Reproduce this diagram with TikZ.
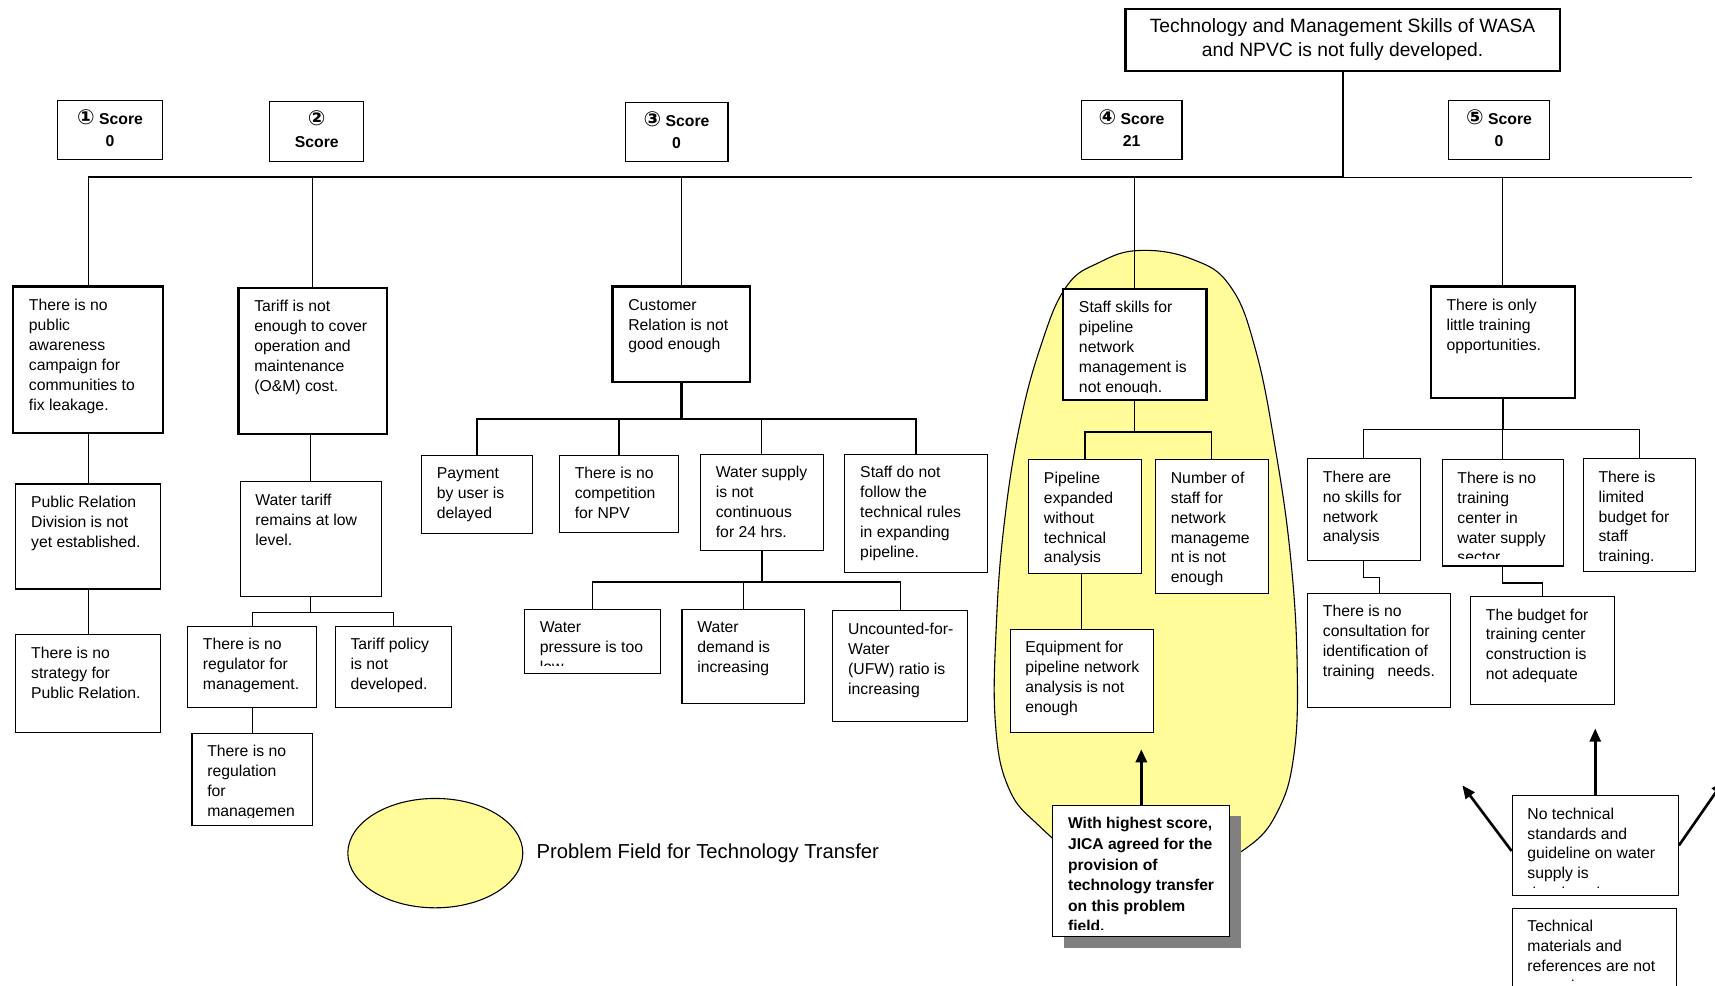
\documentclass[tikz,border=0pt]{standalone}
\usepackage{fontspec}
\setmainfont{Liberation Sans}
\newfontfamily\circfont{DejaVu Sans}
\usetikzlibrary{positioning,arrows.meta,shapes.geometric,shadows}

\definecolor{fieldyellow}{RGB}{255,252,153}
\definecolor{shadowgray}{RGB}{128,128,128}

\newcommand{\boxfont}{\fontsize{14.4}{18.2}\selectfont}
\newcommand{\jicafont}{\fontsize{14.3}{18.8}\selectfont\bfseries}
\newcommand{\titlefont}{\fontsize{17.6}{22}\selectfont}
\newcommand{\scorefont}{\fontsize{14.4}{20}\selectfont\bfseries}
\newcommand{\circnum}[1]{\smash{\circfont\bfseries\fontsize{19}{20}\selectfont #1}\vphantom{S}}

\begin{document}
\begin{tikzpicture}[x=1pt,y=-1pt,
    probtext/.style={draw=none,fill=none,rectangle,anchor=north west,inner sep=0pt,
      minimum width=0pt,minimum height=0pt,align=left},
    probat/.style n args={4}{draw,fill=white,line width=1pt,rectangle,anchor=north west,
      inner sep=0pt,minimum width=#1,minimum height=#2,
      path picture={\clip (path picture bounding box.north west) rectangle ([shift={(0,-7)}]path picture bounding box.south east);
        \node[probtext,font=#4] at ([shift={(13.5,10.5)}]path picture bounding box.north west) {#3};}},
    prob/.style n args={3}{probat={#1}{#2}{#3}{\boxfont}},
    keyprob/.style={line width=2pt},
    scorebox/.style={draw,fill=white,line width=1.2pt,anchor=north west,align=center,font=\scorefont},
    bigarrow/.style={-{Triangle[length=12pt,width=10pt]},line width=2.4pt}]

\useasboundingbox (0,0) rectangle (1568,901);

% problem field for technology transfer
\filldraw[fill=fieldyellow,line width=1pt] plot[smooth cycle,tension=0.7] coordinates {
  (1042,229) (1090,237) (1125,262) (1148,320) (1166,410) (1180,510) (1186,610) (1183,690)
  (1168,742) (1140,775) (1095,795) (1040,800) (990,785) (950,755) (922,720) (910,660)
  (911,570) (918,480) (932,390) (952,315) (975,262) (1005,240)};

% core problem and scores
\node[draw,fill=white,line width=2pt,anchor=north west,minimum width=397,minimum height=57,
  align=center,font=\titlefont] (title) at (1028,7)
  {Technology and Management Skills of WASA\\and NPVC is not fully developed.};
\node[scorebox,minimum width=96,minimum height=54] (s1) at (52,91) {\circnum{①} Score\\0};
\node[scorebox,minimum width=86,minimum height=55] (s2) at (246,92) {\circnum{②}\\Score};
\node[scorebox,minimum width=94,minimum height=54] (s3) at (571,93) {\circnum{③} Score\\0};
\node[scorebox,minimum width=92,minimum height=54] (s4) at (988,91) {\circnum{④} Score\\21};
\node[scorebox,minimum width=92,minimum height=54] (s5) at (1324,91) {\circnum{⑤} Score\\0};

% first level
\node[prob={137}{134}{There is no\\public\\awareness\\campaign for\\communities to\\fix leakage.},keyprob] (a1) at (11,261) {};
\node[prob={136}{134}{Tariff is not\\enough to cover\\operation and\\maintenance\\(O\&M) cost.},keyprob] (b1) at (217,262) {};
\node[prob={126}{87}{Customer\\Relation is not\\good enough},keyprob] (c1) at (559,261) {};
\node[prob={131}{102}{Staff skills for\\pipeline\\network\\management is\\not enough.},keyprob] (d1) at (971,263) {};
\node[prob={132}{102}{There is only\\little training\\opportunities.},keyprob] (e1) at (1307,261) {};

% column 1
\node[prob={132}{96}{Public Relation\\Division is not\\yet established.}] (a2) at (14,442) {};
\node[prob={132}{89}{There is no\\strategy for\\Public Relation.}] (a3) at (14,580) {};

% column 2
\node[prob={129}{105}{Water tariff\\remains at low\\level.}] (b2) at (219,440) {};
\node[prob={118}{74}{There is no\\regulator for\\management.}] (b3) at (171,572) {};
\node[prob={106}{74}{Tariff policy\\is not\\developed.}] (b4) at (306,572) {};
\node[prob={110}{84}{There is no\\regulation\\for\\managemen\\t.}] (b5) at (175,670) {};

% column 3
\node[prob={101}{71}{Payment\\by user is\\delayed}] (c2) at (385,416) {};
\node[prob={109}{70}{There is no\\competition\\for NPV}] (c3) at (511,416) {};
\node[prob={112}{88}{Water supply\\is not\\continuous\\for 24 hrs.}] (c4) at (640,415) {};
\node[prob={130}{108}{Staff do not\\follow the\\technical rules\\in expanding\\pipeline.}] (c5) at (772,415) {};
\node[prob={124}{58}{Water\\pressure is too\\low}] (c6) at (479,557) {};
\node[prob={112}{86}{Water\\demand is\\increasing}] (c7) at (623,557) {};
\node[prob={123}{101}{Uncounted-for-\\Water\\(UFW) ratio is\\increasing}] (c8) at (761,558) {};

% column 4
\node[prob={103}{104}{Pipeline\\expanded\\without\\technical\\analysis}] (d2) at (940,420) {};
\node[prob={103}{122}{Number of\\staff for\\network\\manageme\\nt is not\\enough}] (d3) at (1056,420) {};
\node[prob={131}{94}{Equipment for\\pipeline network\\analysis is not\\enough}] (d4) at (923,575) {};
\node[probat={162}{120}{With highest score,\\JICA agreed for the\\provision of\\technology transfer\\on this problem\\field.}{\jicafont},
  general shadow={fill=shadowgray,shadow xshift=10pt,shadow yshift=-10pt}] (jica) at (962,736) {};

% column 5
\node[prob={103}{93}{There are\\no skills for\\network\\analysis}] (e2) at (1195,419) {};
\node[prob={111}{97}{There is no\\training\\center in\\water supply\\sector}] (e3) at (1318,420) {};
\node[prob={103}{103}{There is\\limited\\budget for\\staff\\training.}] (e4) at (1447,419) {};
\node[prob={131}{104}{There is no\\consultation for\\identification of\\training\ \ \ needs.}] (e5) at (1195,542) {};
\node[prob={132}{99}{The budget for\\training center\\construction is\\not adequate}] (e6) at (1344,545) {};
\node[prob={152}{91}{No technical\\standards and\\guideline on water\\supply is\\developed.}] (f1) at (1382,727) {};
\node[prob={150}{73}{Technical\\materials and\\references are not\\enough.}] (f2) at (1382,830) {};

% legend
\node[draw,ellipse,fill=fieldyellow,line width=1pt,minimum width=160,minimum height=100] (fieldkey) at (398,780) {};
\node[right=12pt of fieldkey,inner sep=0pt,font=\fontsize{18.5}{22}\selectfont] (fieldlabel) {Problem Field for Technology Transfer};

% tree lines
\coordinate (bus) at (0,162);
\coordinate (busend) at (1547,162);
\draw[line width=2pt] (title.south) -- (title.south |- bus);
\draw[line width=1.8pt] (a1.north |- bus) -- (title.south |- bus);
\draw[line width=1.2pt] (title.south |- bus) -- (busend);
\draw[line width=1pt] (a1.north) -- (a1.north |- bus);
\draw[line width=1pt] (b1.north) -- (b1.north |- bus);
\draw[line width=1pt] (c1.north) -- (c1.north |- bus);
\draw[line width=1pt] (d1.north) -- (d1.north |- bus);
\draw[line width=1pt] (e1.north) -- (e1.north |- bus);

\draw[line width=1pt] (a2.north |- a1.south) -- (a2.north);
\draw[line width=1pt] (a2.south) -- (a3.north);

\draw[line width=1pt] (b2.north |- b1.south) -- (b2.north);
\draw[line width=1pt] (b2.south) -- ++(0,14) coordinate (bj);
\draw[line width=1pt] (b3.north) |- (bj) -| (b4.north);
\draw[line width=1pt] (b3.south) -- (b5.north);

\draw[line width=2pt] (c1.south) -- ++(0,33) coordinate (cj);
\draw[line width=1.2pt] (c2.north) |- (cj) -| (c5.north);
\draw[line width=1.2pt] (c3.north) -- (c3.north |- cj);
\draw[line width=1.2pt] (c4.north) -- (c4.north |- cj);
\draw[line width=2pt] (c4.south) -- ++(0,28) coordinate (cj2);
\draw[line width=1.2pt] (c6.north) |- (cj2) -| (c8.north);
\draw[line width=1.2pt] (c7.north) -- (c7.north |- cj2);

\draw[line width=1pt] (d1.south) -- ++(0,28) coordinate (dj);
\draw[line width=1pt] (d2.north) |- (dj) -| (d3.north);
\draw[line width=1pt] (d4.north |- d2.south) -- (d4.north);

\draw[line width=2pt] (e1.south) -- ++(0,28) coordinate (ej);
\draw[line width=1pt] (e2.north) |- (ej) -| (e4.north);
\draw[line width=1pt] (e3.north) -- (e3.north |- ej);
\draw[line width=1pt] (e2.south) -- ++(0,15) -| (e5.north);
\draw[line width=1pt] (e3.south) -- ++(0,15) -| (e6.north);

% arrows
\coordinate (jtip) at (1041,685);
\coordinate (ftipup) at (1457,666);
\coordinate (ftipleft) at (1337,718);
\coordinate (ftipright) at (1576,714);
\draw[bigarrow,line width=3pt] (jica.north) -- (jica.north |- jtip);
\draw[bigarrow] (f1.north) -- (f1.north |- ftipup);
\draw[bigarrow] ([yshift=-5pt]f1.west) -- (ftipleft);
\draw[bigarrow] (f1.east) -- (ftipright);
\end{tikzpicture}
\end{document}
